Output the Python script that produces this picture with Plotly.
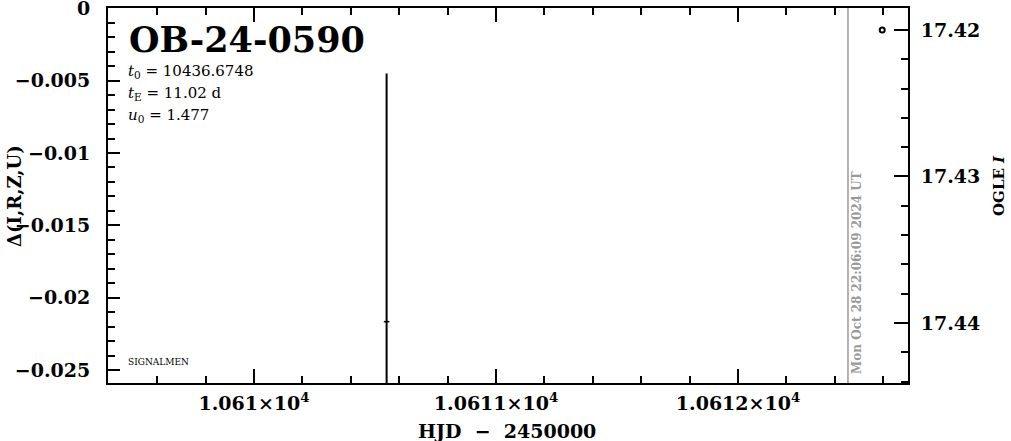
import plotly.graph_objects as go

# ---- data ----
event_name = "OB-24-0590"
t0_text = "10436.6748"
tE_text = "11.02 d"
u0_text = "1.477"
stamp_text = "Mon Oct 28 22:06:09 2024 UT"

# residual-panel point (left axis) with error bar
res_x = [10610.548]
res_y = [-0.02166]
res_err_up = [0.01708]
res_err_down = [0.01]

# OGLE I photometry (right axis)
ogle_x = [10612.596]
ogle_mag = [17.42]

# current-time marker
now_x = [10612.4545]

x_range = [10609.3967, 10612.7025]
y_range = [-0.0259, 0.00002]
y2_range = [17.4441, 17.4185]

x_tickvals = [10610, 10611, 10612]
x_ticktext = ["1.061×10<sup>4</sup>", "1.0611×10<sup>4</sup>", "1.0612×10<sup>4</sup>"]
y_tickvals = [0, -0.005, -0.01, -0.015, -0.02, -0.025]
y_ticktext = ["0", "−0.005", "−0.01", "−0.015", "−0.02", "−0.025"]
y2_tickvals = [17.42, 17.43, 17.44]
y2_ticktext = ["17.42", "17.43", "17.44"]

FONT = "DejaVu Serif"
tickfont = dict(family=FONT, size=19, color="black", weight="bold")

L, R, T, B = 108, 908, 8, 383
W, H = R - L, B - T


def px(xp):
    return (xp - L) / W


def py(yp):
    return (B - yp) / H


fig = go.Figure()

fig.add_trace(go.Scatter(
    x=res_x, y=res_y, mode="markers",
    marker=dict(symbol="line-ew", size=4, line=dict(width=1.5, color="black"), color="black"),
    error_y=dict(type="data", symmetric=False, array=res_err_up, arrayminus=res_err_down,
                 color="black", thickness=2, width=1),
    showlegend=False, hoverinfo="skip", cliponaxis=True,
))

fig.add_trace(go.Scatter(
    x=ogle_x, y=ogle_mag, mode="markers", yaxis="y2",
    marker=dict(symbol="circle-open", size=5, line=dict(width=2, color="black"), color="black"),
    showlegend=False, hoverinfo="skip",
))

for xv in now_x:
    fig.add_shape(type="line", xref="x", yref="paper", x0=xv, x1=xv, y0=0, y1=1,
                  line=dict(color="#999999", width=1.5), layer="above")

fig.add_annotation(x=px(857), y=py(273), xref="paper", yref="paper", text=stamp_text, showarrow=False,
                   textangle=-90, font=dict(family=FONT, size=12, color="#999999", weight="bold"),
                   xanchor="center", yanchor="middle")

fig.add_annotation(x=px(127), y=py(39), xref="paper", yref="paper",
                   text=event_name, showarrow=False, xanchor="left", yanchor="middle",
                   font=dict(family=FONT, size=35, color="black", weight="bold"))
params = [
    ("<i>t</i><sub>0</sub> = " + t0_text, 71),
    ("<i>t</i><sub>E</sub> = " + tE_text, 93),
    ("<i>u</i><sub>0</sub> = " + u0_text, 115),
]
for txt, ypx in params:
    fig.add_annotation(x=px(126), y=py(ypx), xref="paper", yref="paper",
                       text=txt, showarrow=False, xanchor="left", yanchor="middle",
                       font=dict(family=FONT, size=15, color="black"))

fig.add_annotation(x=px(126), y=py(362), xref="paper", yref="paper",
                   text="SIGNALMEN", showarrow=False, xanchor="left", yanchor="middle",
                   font=dict(family=FONT, size=9, color="black"))

fig.add_annotation(x=px(14), y=py(196), xref="paper", yref="paper",
                   text="Δ(I,R,Z,U)", showarrow=False, textangle=-90, xanchor="center", yanchor="middle",
                   font=dict(family=FONT, size=18, color="black", weight="bold"))
fig.add_annotation(x=px(999), y=py(186), xref="paper", yref="paper",
                   text="OGLE <i>I</i>", showarrow=False, textangle=-90, xanchor="center", yanchor="middle",
                   font=dict(family=FONT, size=15, color="black", weight="bold"))
fig.add_annotation(x=px(507), y=py(431), xref="paper", yref="paper",
                   text="HJD\u00a0 −\u00a0 2450000", showarrow=False, xanchor="center", yanchor="middle",
                   font=dict(family=FONT, size=19, color="black", weight="bold"))

fig.update_layout(
    width=1011, height=441,
    margin=dict(l=L, r=1011 - R, t=T, b=441 - B, pad=0, autoexpand=False),
    paper_bgcolor="white", plot_bgcolor="white",
    xaxis=dict(
        range=x_range, showgrid=False, zeroline=False, automargin=False,
        showline=True, linecolor="black", linewidth=2, mirror="ticks",
        ticks="inside", ticklen=14, tickwidth=2, tickcolor="black",
        tickmode="array", tickvals=x_tickvals, ticktext=x_ticktext,
        tickfont=tickfont, ticklabelstandoff=2, ticklabeloverflow="allow",
        minor=dict(ticks="inside", ticklen=7, tickwidth=2, tickcolor="black",
                   tickmode="linear", tick0=10610, dtick=0.2, showgrid=False),
    ),
    yaxis=dict(
        range=y_range, showgrid=False, zeroline=False, automargin=False,
        showline=True, linecolor="black", linewidth=2,
        ticks="inside", ticklen=12, tickwidth=2, tickcolor="black",
        tickmode="array", tickvals=y_tickvals, ticktext=y_ticktext,
        tickfont=tickfont, ticklabelstandoff=12, ticklabeloverflow="allow",
        minor=dict(ticks="inside", ticklen=7, tickwidth=2, tickcolor="black",
                   tickmode="linear", tick0=0, dtick=0.001, showgrid=False),
    ),
    yaxis2=dict(
        overlaying="y", side="right", anchor="x", automargin=False,
        range=y2_range, showgrid=False, zeroline=False,
        showline=True, linecolor="black", linewidth=2,
        ticks="inside", ticklen=14, tickwidth=2, tickcolor="black",
        tickmode="array", tickvals=y2_tickvals, ticktext=y2_ticktext,
        tickfont=tickfont, ticklabelstandoff=7, ticklabeloverflow="allow",
        minor=dict(ticks="inside", ticklen=7, tickwidth=2, tickcolor="black",
                   tickmode="linear", tick0=17.42, dtick=0.002, showgrid=False),
    ),
)

fig.write_html("out.html", config={"displayModeBar": False},
               post_script="document.body.style.margin='0';")
